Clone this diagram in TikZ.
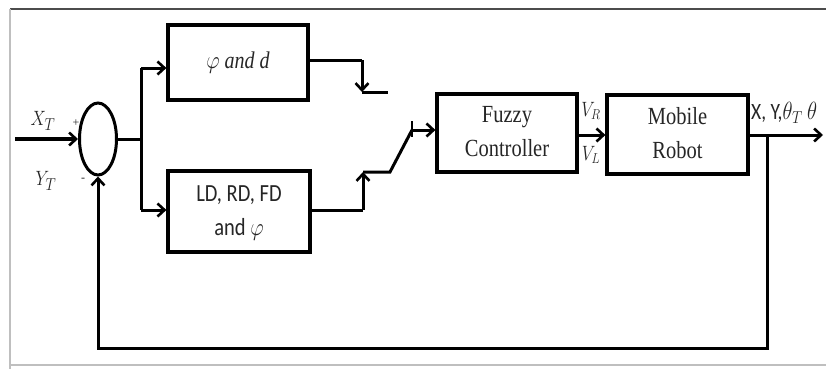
\documentclass[tikz,border=0pt]{standalone}
\usepackage{fontspec}
\usepackage{graphicx}
\setmainfont{Liberation Serif}
\newfontfamily\calfont{Carlito}
\usetikzlibrary{arrows.meta,shapes.geometric}
\newcommand{\vstretch}[1]{\scalebox{1}[1.2]{#1}}
\tikzset{
  line/.style={line width=3pt, line cap=butt},
  arr/.style={line, -{Straight Barb[length=7pt,width=13pt,line width=2.6pt]}},
  blk/.style={draw, line width=3.2pt, rectangle, inner sep=0pt, fill=white, text=black!85},
  lbl/.style={inner sep=0pt, text=black!85},
  framedark/.style={draw=black!70, line width=1.5pt},
  framelight/.style={draw=black!25, line width=1.8pt},
}
\begin{document}
\begin{tikzpicture}[x=1pt,y=-1pt]
\useasboundingbox (0,0) rectangle (826,369);
% frame
\draw[framedark] (10,9) -- (826,9);
\draw[framelight] (10,9) -- (10,369);
\draw[framelight] (10,365) -- (826,365);

% summing junction
\node[ellipse, draw, line width=3pt, minimum width=37pt, minimum height=72pt, inner sep=0pt] (sum) at (98,139) {};
\coordinate (in) at (15,139);
\draw[arr, line width=4pt] (in) -- (sum.west);
\node[lbl] (xt) at (43,121) {\vstretch{\fontsize{19}{22}\selectfont$X_T$}};
\node[lbl] (plus) at (76,123) {\fontsize{12}{14}\selectfont +};
\node[lbl] (yt) at (46,181) {\vstretch{\fontsize{19}{22}\selectfont$Y_T$}};
\node[lbl] (minus) at (83,180) {\fontsize{12}{14}\selectfont -};

% branch
\coordinate (br) at (141,139);
\coordinate (bt) at (141,68);
\coordinate (bb) at (141,210);
\draw[line] (sum.east) -- (br);
\draw[line] (bt) -- (bb);

% blocks
\node[blk, minimum width=140pt, minimum height=75pt] (b1) at (238,62.5)
  {\vstretch{\fontsize{20}{24}\selectfont$\varphi$ \textit{and d}}};
\node[blk, minimum width=142pt, minimum height=81pt] (b2) at (239,211.5)
  {\vstretch{\calfont\fontsize{20.5}{29}\selectfont\begin{tabular}{@{}c@{}}LD, RD, FD\\and $\varphi$\end{tabular}}};
\node[blk, minimum width=140pt, minimum height=78pt] (fc) at (507,133)
  {\vstretch{\fontsize{20.5}{28}\selectfont\begin{tabular}{@{}c@{}}Fuzzy\\Controller\end{tabular}}};
\node[blk, minimum width=141pt, minimum height=79pt] (mr) at (677.5,134.5)
  {\vstretch{\fontsize{20.5}{28}\selectfont\begin{tabular}{@{}c@{}}Mobile\\Robot\end{tabular}}};

\draw[arr] (bt) -- (bt -| b1.west);
\draw[arr] (bb) -- (bb -| b2.west);

% switch, upper path
\coordinate (s1) at (362,60);
\coordinate (s1b) at (362,92);
\coordinate (s1e) at (388,92);
\draw[line] (b1.east |- s1) -- (s1);
\draw[arr] (s1) -- (s1b);
\draw[line] (s1b) -- (s1e);

% switch, lower path
\coordinate (s2) at (363,210);
\coordinate (s2b) at (363,172);
\coordinate (s2e) at (390,172);
\coordinate (pv) at (412,130);
\coordinate (tk1) at (412,121);
\coordinate (tk2) at (412,137);
\draw[line] (b2.east |- s2) -- (s2);
\draw[arr] (s2) -- (s2b);
\draw[line, line join=miter] (s2b) -- (s2e) -- (pv);
\draw[line, line width=2.2pt] (tk1) -- (tk2);
\draw[arr] (pv) -- (pv -| fc.west);

% controller to robot
\coordinate (v) at (577,135);
\draw[arr] (v) -- (v -| mr.west);
\node[lbl] (vr) at (591,111) {\vstretch{\fontsize{18}{21}\selectfont$V_R$}};
\node[lbl] (vl) at (591,155) {\vstretch{\fontsize{18}{21}\selectfont$V_L$}};

% output
\coordinate (o1) at (748,135);
\coordinate (out) at (823,135);
\draw[arr] (o1) -- (out);
\node[lbl, anchor=west] (ol) at (751,113) {\vstretch{\calfont\fontsize{19.5}{23}\selectfont X, Y,$\theta_T$ $\theta$}};

% feedback
\coordinate (fb) at (767,135);
\coordinate (fb2) at (767,348);
\coordinate (fb3) at (98,348);
\draw[arr, line join=miter] (fb) -- (fb2) -- (fb3) -- (sum.south);
\end{tikzpicture}
\end{document}
